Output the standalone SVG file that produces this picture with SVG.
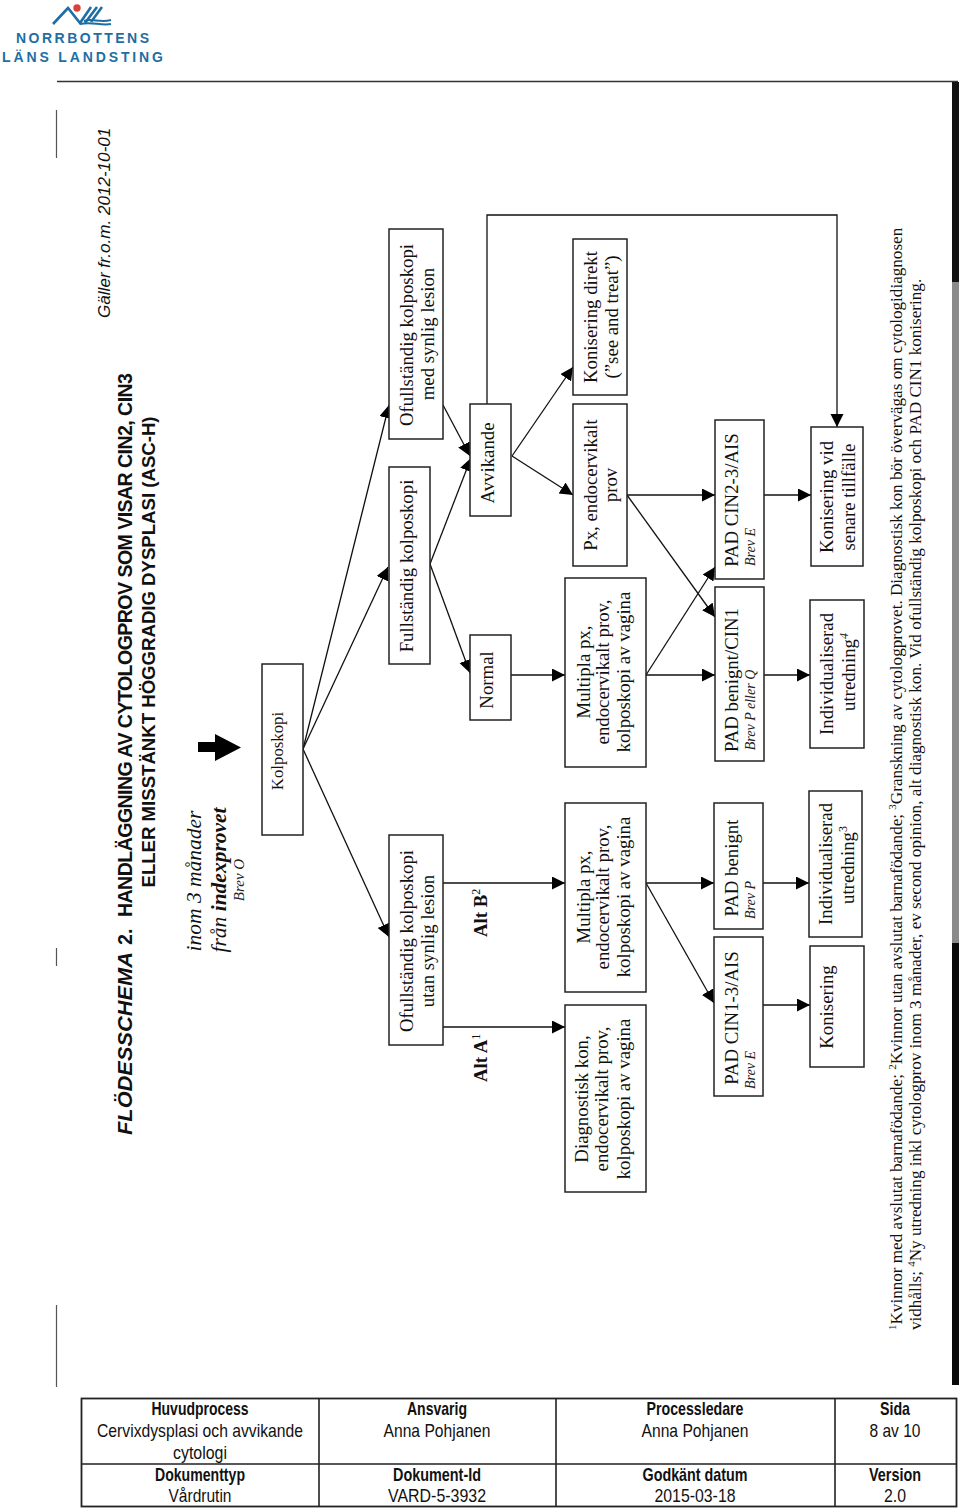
<svg xmlns="http://www.w3.org/2000/svg" width="960" height="1511" viewBox="0 0 960 1511">
<style>
.b{fill:#fff;stroke:#222;stroke-width:1.5}
.t{font-family:"Liberation Serif","Times New Roman",serif;font-size:18.8px;fill:#111;text-anchor:middle}
.l{font-family:"Liberation Serif","Times New Roman",serif;font-size:14px;font-style:italic;fill:#222;text-anchor:middle}
.c{fill:none;stroke:#111;stroke-width:1.3}
.a{font-family:"Liberation Sans",Arial,sans-serif;fill:#111}
.f{font-family:"Liberation Serif","Times New Roman",serif;font-size:17.13px;fill:#111}
.h{font-family:"Liberation Sans",Arial,sans-serif;font-size:19px;fill:#111;text-anchor:middle}
.hb{font-weight:bold}
.logo{font-family:"Liberation Sans",Arial,sans-serif;font-weight:bold;font-size:14px;fill:#1f6ea3}
</style>
<defs>
<marker id="ah" markerUnits="userSpaceOnUse" markerWidth="14" markerHeight="14" refX="13" refY="6.5" orient="auto"><path d="M0,0L13,6.5L0,13z" fill="#000"/></marker>
</defs>
<rect width="960" height="1511" fill="#fff"/>

<g id="logo">
<path d="M53,24L68,8L80,23L91,7M85,23L97,7M91,22L102,7" fill="none" stroke="#1f6ea3" stroke-width="2.6"/>
<path d="M84,21C92,18 100,23 111,20M80,24C92,21 100,26 111,24" fill="none" stroke="#1f6ea3" stroke-width="2"/>
<circle cx="77" cy="8" r="3.7" fill="#d9423c"/>
<text class="logo" x="16" y="43" textLength="133">NORRBOTTENS</text>
<text class="logo" x="2" y="62" textLength="161">LÄNS LANDSTING</text>
</g>

<g id="scan-frame">
<path d="M57,81.5H958" stroke="#333" stroke-width="1.6" fill="none"/>
<path d="M56.5,110V158M56.5,948V966M56.5,1305V1387" stroke="#555" stroke-width="1.2" fill="none"/>
<rect x="952" y="82" width="7" height="200" fill="#111"/>
<rect x="952" y="282" width="7" height="661" fill="#8a8a8a"/>
<rect x="952" y="943" width="7" height="442" fill="#0a0a0a"/>
</g>

<g id="header">
<text class="a" font-size="17.1" font-style="italic" transform="translate(110,318) rotate(-90)">Gäller fr.o.m.  2012-10-01</text>
<text class="a" font-size="20" font-weight="bold" font-style="italic" textLength="183" lengthAdjust="spacingAndGlyphs" transform="translate(132,1135) rotate(-90)">FLÖDESSCHEMA</text>
<text class="a" font-size="19.6" font-weight="bold" transform="translate(132,945) rotate(-90)">2.</text>
<text class="a" font-size="19.6" font-weight="bold" textLength="544" transform="translate(132,917) rotate(-90)">HANDLÄGGNING AV CYTOLOGPROV SOM VISAR CIN2, CIN3</text>
<text class="a" font-size="18.6" font-weight="bold" text-anchor="middle" transform="translate(155,652) rotate(-90)">ELLER MISSTÄNKT HÖGGRADIG DYSPLASI (ASC-H)</text>
<text class="t" font-style="italic" style="font-size:21.5px" transform="translate(201,881) rotate(-90)">inom 3 månader</text>
<text class="t" font-style="italic" style="font-size:21.5px" transform="translate(226,880) rotate(-90)">från <tspan font-weight="bold">indexprovet</tspan></text>
<text class="l" style="font-size:15px" transform="translate(244,880) rotate(-90)">Brev O</text>
<path id="big-arrow" d="M198,742H215V734L241,747.5L215,761V752H198z" fill="#000"/>
</g>

<g id="connectors">
<path class="c" marker-end="url(#ah)" d="M303,749L389,405"/>
<path class="c" marker-end="url(#ah)" d="M303,749L388,567"/>
<path class="c" marker-end="url(#ah)" d="M303,749L389,937"/>
<path class="c" marker-end="url(#ah)" d="M443,405L470,456"/>
<path class="c" marker-end="url(#ah)" d="M430,564L471,458"/>
<path class="c" marker-end="url(#ah)" d="M430,564L470,673"/>
<path class="c" marker-end="url(#ah)" d="M512,456L573,367"/>
<path class="c" marker-end="url(#ah)" d="M512,456L573,495"/>
<path class="c" marker-end="url(#ah)" d="M487,404V215H837V427"/>
<path class="c" marker-end="url(#ah)" d="M511,675H565"/>
<path class="c" marker-end="url(#ah)" d="M443,883H565"/>
<path class="c" marker-end="url(#ah)" d="M443,1027H565"/>
<path class="c" marker-end="url(#ah)" d="M627,495H715"/>
<path class="c" marker-end="url(#ah)" d="M627,495L715,617"/>
<path class="c" marker-end="url(#ah)" d="M646,675H715"/>
<path class="c" marker-end="url(#ah)" d="M646,675L715,567"/>
<path class="c" marker-end="url(#ah)" d="M646,883H714"/>
<path class="c" marker-end="url(#ah)" d="M646,883L714,1003"/>
<path class="c" marker-end="url(#ah)" d="M764,495H811"/>
<path class="c" marker-end="url(#ah)" d="M764,675H810"/>
<path class="c" marker-end="url(#ah)" d="M763,883H809"/>
<path class="c" marker-end="url(#ah)" d="M763,1005H810"/>
</g>

<g id="n-kolposkopi"><rect class="b" x="262" y="664" width="41" height="171"/><text class="t" style="font-size:16.8px" transform="translate(283,751) rotate(-90)">Kolposkopi</text></g>
<g id="n-ofull-med"><rect class="b" x="389" y="229" width="54" height="210"/><text class="t" transform="translate(413,335) rotate(-90)">Ofullständig kolposkopi</text><text class="t" transform="translate(434,334) rotate(-90)">med synlig lesion</text></g>
<g id="n-full"><rect class="b" x="389" y="467" width="41" height="197"/><text class="t" transform="translate(413,566) rotate(-90)">Fullständig kolposkopi</text></g>
<g id="n-ofull-utan"><rect class="b" x="389" y="835" width="54" height="210"/><text class="t" transform="translate(413,941) rotate(-90)">Ofullständig kolposkopi</text><text class="t" transform="translate(434,941) rotate(-90)">utan synlig lesion</text></g>
<g id="n-avvikande"><rect class="b" x="470" y="404" width="41" height="112"/><text class="t" transform="translate(494,463) rotate(-90)">Avvikande</text></g>
<g id="n-normal"><rect class="b" x="470" y="635" width="41" height="85"/><text class="t" transform="translate(493,680) rotate(-90)">Normal</text></g>
<g id="n-kon-direkt"><rect class="b" x="573" y="239" width="54" height="156"/><text class="t" transform="translate(597,317) rotate(-90)">Konisering direkt</text><text class="t" transform="translate(618,317) rotate(-90)">(”see and treat”)</text></g>
<g id="n-px"><rect class="b" x="573" y="404" width="54" height="162"/><text class="t" transform="translate(597,485) rotate(-90)">Px, endocervikalt</text><text class="t" transform="translate(617,485) rotate(-90)">prov</text></g>
<g id="n-multipla-1"><rect class="b" x="565" y="578" width="81" height="189"/><text class="t" transform="translate(590,672) rotate(-90)">Multipla px,</text><text class="t" transform="translate(609,672) rotate(-90)">endocervikalt prov,</text><text class="t" transform="translate(630,672) rotate(-90)">kolposkopi av vagina</text></g>
<g id="n-multipla-2"><rect class="b" x="565" y="803" width="81" height="189"/><text class="t" transform="translate(590,897) rotate(-90)">Multipla px,</text><text class="t" transform="translate(609,897) rotate(-90)">endocervikalt prov,</text><text class="t" transform="translate(630,897) rotate(-90)">kolposkopi av vagina</text></g>
<g id="n-diagnostisk"><rect class="b" x="565" y="1005" width="81" height="187"/><text class="t" transform="translate(588,1099) rotate(-90)">Diagnostisk kon,</text><text class="t" transform="translate(608,1099) rotate(-90)">endocervikalt prov,</text><text class="t" transform="translate(630,1099) rotate(-90)">kolposkopi av vagina</text></g>
<g id="n-cin23"><rect class="b" x="715" y="420" width="49" height="159"/><text class="t" transform="translate(738,500) rotate(-90)">PAD CIN2-3/AIS</text><text class="l" transform="translate(755,547) rotate(-90)">Brev E</text></g>
<g id="n-ben-cin1"><rect class="b" x="715" y="587" width="49" height="174"/><text class="t" transform="translate(738,680) rotate(-90)">PAD benignt/CIN1</text><text class="l" transform="translate(755,710) rotate(-90)">Brev P eller Q</text></g>
<g id="n-ben"><rect class="b" x="714" y="803" width="49" height="126"/><text class="t" transform="translate(738,868) rotate(-90)">PAD benignt</text><text class="l" transform="translate(755,900) rotate(-90)">Brev P</text></g>
<g id="n-cin13"><rect class="b" x="714" y="937" width="49" height="159"/><text class="t" transform="translate(738,1018) rotate(-90)">PAD CIN1-3/AIS</text><text class="l" transform="translate(755,1070) rotate(-90)">Brev E</text></g>
<g id="n-kon-senare"><rect class="b" x="811" y="427" width="52" height="139"/><text class="t" transform="translate(833,497) rotate(-90)">Konisering vid</text><text class="t" transform="translate(855,497) rotate(-90)">senare tillfälle</text></g>
<g id="n-ind-4"><rect class="b" x="810" y="600" width="54" height="148"/><text class="t" transform="translate(833,674) rotate(-90)">Individualiserad</text><text class="t" transform="translate(855,672) rotate(-90)">utredning<tspan font-size="12" dy="-7" font-style="italic">4</tspan></text></g>
<g id="n-ind-3"><rect class="b" x="809" y="791" width="53" height="146"/><text class="t" transform="translate(832,864) rotate(-90)">Individualiserad</text><text class="t" transform="translate(854,865) rotate(-90)">utredning<tspan font-size="12" dy="-7">3</tspan></text></g>
<g id="n-kon"><rect class="b" x="810" y="946" width="54" height="121"/><text class="t" transform="translate(833,1007) rotate(-90)">Konisering</text></g>

<g id="labels">
<text class="t" font-weight="bold" style="text-anchor:start" transform="translate(487,1082) rotate(-90)">Alt A<tspan font-size="12" font-weight="normal" dy="-7">1</tspan></text>
<text class="t" font-weight="bold" style="text-anchor:start" transform="translate(487,937) rotate(-90)">Alt B<tspan font-size="12" font-weight="normal" dy="-7">2</tspan></text>
</g>

<g id="footnotes">
<text class="f" transform="translate(902,1330) rotate(-90)"><tspan font-size="11" dy="-6">1</tspan><tspan dy="6">Kvinnor med avslutat barnafödande; </tspan><tspan font-size="11" dy="-6">2</tspan><tspan dy="6">Kvinnor utan avslutat barnafödande; </tspan><tspan font-size="11" dy="-6">3</tspan><tspan dy="6">Granskning av cytologprovet. Diagnostisk kon bör övervägas om cytologidiagnosen</tspan></text>
<text class="f" transform="translate(921,1330) rotate(-90)">vidhålls; <tspan font-size="11" dy="-6">4</tspan><tspan dy="6">Ny utredning inkl cytologprov inom 3 månader, ev second opinion, alt diagnostisk kon. Vid ofullständig kolposkopi och PAD CIN1 konisering.</tspan></text>
</g>

<g id="doc-table">
<rect x="81.5" y="1398.5" width="875" height="108" fill="none" stroke="#222" stroke-width="1.8"/>
<path d="M81,1464H957M319,1398V1507M556,1398V1507M835,1398V1507" fill="none" stroke="#222" stroke-width="1.6"/>
<text class="h hb" x="200" y="1415" textLength="97" lengthAdjust="spacingAndGlyphs">Huvudprocess</text>
<text class="h" x="200" y="1437" textLength="206" lengthAdjust="spacingAndGlyphs">Cervixdysplasi och avvikande</text>
<text class="h" x="200" y="1459" textLength="54" lengthAdjust="spacingAndGlyphs">cytologi</text>
<text class="h hb" x="437" y="1415" textLength="60" lengthAdjust="spacingAndGlyphs">Ansvarig</text>
<text class="h" x="437" y="1437" textLength="107" lengthAdjust="spacingAndGlyphs">Anna Pohjanen</text>
<text class="h hb" x="695" y="1415" textLength="97" lengthAdjust="spacingAndGlyphs">Processledare</text>
<text class="h" x="695" y="1437" textLength="107" lengthAdjust="spacingAndGlyphs">Anna Pohjanen</text>
<text class="h hb" x="895" y="1415" textLength="30" lengthAdjust="spacingAndGlyphs">Sida</text>
<text class="h" x="895" y="1437" textLength="51" lengthAdjust="spacingAndGlyphs">8 av 10</text>
<text class="h hb" x="200" y="1481" textLength="90" lengthAdjust="spacingAndGlyphs">Dokumenttyp</text>
<text class="h" x="200" y="1502" textLength="63" lengthAdjust="spacingAndGlyphs">Vårdrutin</text>
<text class="h hb" x="437" y="1481" textLength="88" lengthAdjust="spacingAndGlyphs">Dokument-Id</text>
<text class="h" x="437" y="1502" textLength="98" lengthAdjust="spacingAndGlyphs">VARD-5-3932</text>
<text class="h hb" x="695" y="1481" textLength="105" lengthAdjust="spacingAndGlyphs">Godkänt datum</text>
<text class="h" x="695" y="1502" textLength="81" lengthAdjust="spacingAndGlyphs">2015-03-18</text>
<text class="h hb" x="895" y="1481" textLength="52" lengthAdjust="spacingAndGlyphs">Version</text>
<text class="h" x="895" y="1502" textLength="22" lengthAdjust="spacingAndGlyphs">2.0</text>
</g>
</svg>
